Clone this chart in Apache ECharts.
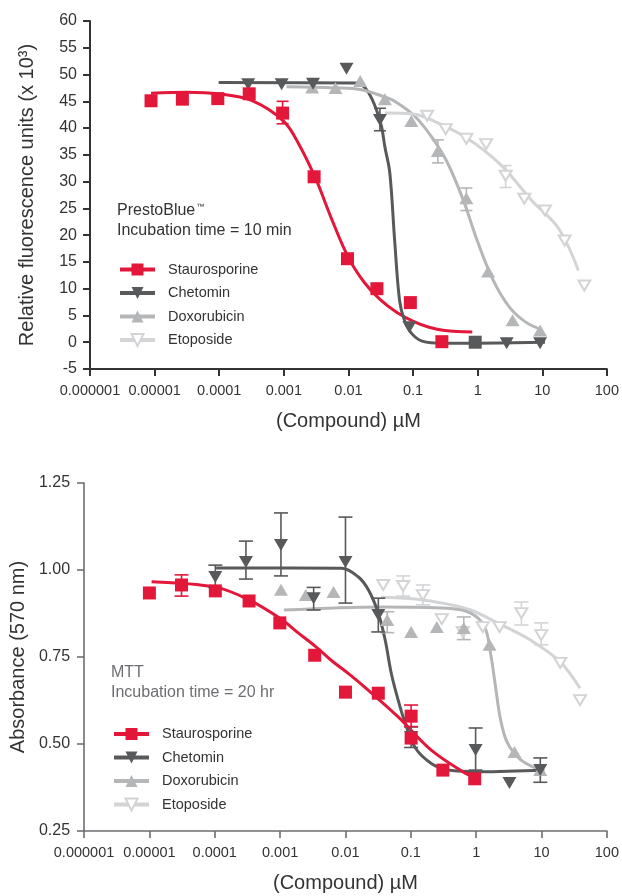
<!DOCTYPE html>
<html>
<head>
<meta charset="utf-8">
<script src="https://cdn.jsdelivr.net/npm/echarts@6/dist/echarts.min.js"></script>
<style>
  html, body { margin: 0; padding: 0; background: #fff; }
  #chart { width: 622px; height: 896px; }
</style>
</head>
<body>
<div id="chart"></div>
<script>
// Decade tick labels for the concentration axis (µM)
const xTickLabels = ['0.000001', '0.00001', '0.0001', '0.001', '0.01', '0.1', '1', '10', '100'];
const compounds = ['Staurosporine', 'Chetomin', 'Doxorubicin', 'Etoposide'];

// ---- PrestoBlue, 10 min incubation: [concentration µM, RFU x 10^3] ----
const pbStauroPts = [[0.0000088, 45.1], [0.0000269, 45.4], [0.000095, 45.5], [0.000291, 46.4], [0.000957, 42.8],
  [0.00294, 30.9], [0.00966, 15.6], [0.0276, 10.0], [0.0908, 7.4], [0.279, 0.1]];
const pbChetoPts = [[0.000281, 48.2], [0.000925, 48.2], [0.00283, 48.3], [0.00933, 51.1], [0.0307, 41.5],
  [0.0877, 2.8], [2.81, -0.2], [9.25, -0.2]];
const pbChetoSquare = [[0.916, 0.0]];
const pbDoxoPts = [[0.00274, 47.6], [0.0063, 47.5], [0.0152, 48.8], [0.0366, 45.4], [0.094, 41.3],
  [0.242, 35.7], [0.668, 26.9], [1.45, 13.2], [3.47, 4.1], [9.25, 2.2]];
const pbEtopoPts = [[0.165, 42.3], [0.32, 39.8], [0.668, 38.0], [1.35, 37.0], [2.71, 31.1],
  [5.27, 26.8], [11.0, 24.6], [22.2, 19.0], [44.7, 10.6]];

// error bars: [concentration, low, high]
const pbStauroErr = [[0.000957, 40.8, 45.0]];
const pbChetoErr = [[0.0307, 39.5, 43.7]];
const pbDoxoErr = [[0.242, 33.5, 37.8], [0.668, 24.6, 28.8]];
const pbEtopoErr = [[2.71, 28.9, 33.0]];

// fitted dose-response curves
const pbStauroFit = [[0.0000088, 46.5], [0.000032, 46.7], [0.000098, 46.4], [0.00031, 45.2], [0.00099, 41.3],
  [0.00174, 36.8], [0.00315, 30.4], [0.0055, 23.0], [0.01, 15.8], [0.0175, 11.2], [0.0307, 8.0],
  [0.0556, 5.6], [0.101, 3.9], [0.177, 2.8], [0.309, 2.2], [0.824, 1.9]];
const pbChetoFit = [[0.000098, 48.5], [0.01276, 48.4], [0.01816, 47.5], [0.024, 45.0], [0.0286, 42.6],
  [0.0329, 40.0], [0.0366, 36.5], [0.0436, 31.7], [0.0519, 19.0], [0.0618, 7.8], [0.0736, 4.1],
  [0.094, 1.7], [0.138, 0.2], [0.299, -0.2], [11.0, 0.0]];
const pbDoxoFit = [[0.0011, 47.7], [0.0063, 47.5], [0.0152, 47.2], [0.0366, 45.8], [0.0519, 45.0],
  [0.1045, 42.3], [0.19, 38.5], [0.332, 33.8], [0.601, 26.5], [0.949, 19.5], [1.72, 11.7],
  [3.12, 6.5], [5.47, 3.8], [9.9, 2.3]];
const pbEtopoFit = [[0.0366, 42.8], [0.1045, 42.6], [0.21, 41.3], [0.668, 38.2], [2.2, 33.3],
  [6.98, 26.4], [18.0, 21.2], [36.2, 13.4]];

// ---- MTT, 20 hr incubation: [concentration µM, absorbance 570 nm] ----
const mttStauroPts = [[0.00001, 0.934], [0.000031, 0.957], [0.000102, 0.94], [0.000335, 0.911], [0.00099, 0.848],
  [0.00338, 0.755], [0.01, 0.649], [0.0318, 0.646], [0.101, 0.58], [0.101, 0.517], [0.309, 0.425], [0.949, 0.40]];
const mttChetoPts = [[0.000102, 0.98], [0.0003, 1.023], [0.00103, 1.072], [0.00326, 0.919], [0.01, 1.023],
  [0.0318, 0.871], [0.101, 0.52], [0.98, 0.483], [3.23, 0.388], [9.57, 0.425]];
const mttDoxoPts = [[0.00103, 0.943], [0.00247, 0.928], [0.00656, 0.937], [0.0436, 0.856], [0.101, 0.822],
  [0.25, 0.836], [0.646, 0.833], [1.6, 0.785], [3.85, 0.477], [9.57, 0.425]];
const mttEtopoPts = [[0.0378, 0.957], [0.0762, 0.954], [0.153, 0.928], [0.298, 0.859], [0.624, 0.822],
  [1.26, 0.836], [2.28, 0.836], [4.92, 0.876], [9.9, 0.813], [19.3, 0.733], [38.8, 0.626]];

const mttStauroErr = [[0.000031, 0.925, 0.986], [0.101, 0.55, 0.612]];
const mttChetoErr = [[0.000102, 0.95, 1.014], [0.0003, 0.974, 1.083], [0.00103, 0.983, 1.164], [0.00326, 0.885, 0.95],
  [0.01, 0.905, 1.152], [0.0318, 0.822, 0.919], [0.101, 0.49, 0.549], [0.98, 0.425, 0.546], [9.57, 0.39, 0.46]];
const mttDoxoErr = [[0.0436, 0.82, 0.88], [0.646, 0.80, 0.865]];
const mttEtopoErr = [[0.0762, 0.925, 0.983], [0.153, 0.90, 0.957], [4.92, 0.842, 0.908], [9.9, 0.785, 0.848]];

const mttStauroFit = [[0.0000108, 0.966], [0.000105, 0.95], [0.000335, 0.914], [0.00103, 0.859], [0.00193, 0.818],
  [0.0035, 0.78], [0.0061, 0.74], [0.0115, 0.70], [0.0201, 0.662], [0.064, 0.578], [0.203, 0.483],
  [0.668, 0.417], [0.949, 0.405]];
const mttChetoFit = [[0.000105, 1.006], [0.0087, 1.005], [0.0158, 0.98], [0.0224, 0.943], [0.0318, 0.876],
  [0.0405, 0.799], [0.0501, 0.704], [0.064, 0.626], [0.0819, 0.56], [0.116, 0.49], [0.203, 0.445],
  [0.369, 0.425], [1.17, 0.42], [11.0, 0.425]];
const mttDoxoFit = [[0.00114, 0.885], [0.0353, 0.894], [0.369, 0.89], [0.824, 0.876], [1.35, 0.836],
  [1.66, 0.76], [1.98, 0.664], [2.36, 0.57], [3.01, 0.503], [4.75, 0.455], [9.57, 0.425]];
const mttEtopoFit = [[0.0353, 0.922], [0.116, 0.917], [0.369, 0.902], [0.824, 0.885], [2.12, 0.848],
  [6.74, 0.799], [19.3, 0.736], [38.8, 0.66]];

const FONT = '"Liberation Sans", Arial, Helvetica, sans-serif';
const COLORS = {
  Staurosporine: '#e3173a',
  Chetomin: '#58595b',
  Doxorubicin: '#b5b6b8',
  Etoposide: '#d3d4d6'
};
const SYMBOLS = {
  Staurosporine: ['rect', 0, 13],
  Chetomin: ['triangle', 180, [14, 12]],
  Doxorubicin: ['triangle', 0, [14, 12]],
  Etoposide: ['emptyTriangle', 180, [12, 10]]
};

function fitSeries(name, data, gi) {
  const c = COLORS[name];
  return {
    type: 'line', name, xAxisIndex: gi, yAxisIndex: gi, data,
    smooth: 0.35, showSymbol: false,
    symbol: SYMBOLS[name][0], symbolRotate: SYMBOLS[name][1],
    lineStyle: { color: c, width: 3 }, itemStyle: { color: c },
    silent: true, z: 2
  };
}
function pointSeries(name, data, gi, symbolOverride) {
  const c = COLORS[name];
  const s = SYMBOLS[name];
  return {
    type: 'scatter', name, xAxisIndex: gi, yAxisIndex: gi, data,
    symbol: symbolOverride || s[0], symbolRotate: symbolOverride ? 0 : s[1],
    symbolSize: symbolOverride ? 13 : s[2],
    itemStyle: { color: c, opacity: 1 },
    silent: true, z: 4
  };
}
function errSeries(name, data, gi, cap) {
  const c = COLORS[name];
  return {
    type: 'custom', xAxisIndex: gi, yAxisIndex: gi, data, silent: true, z: 3,
    encode: { x: 0, y: [1, 2] },
    renderItem(params, api) {
      const x = api.value(0);
      const top = api.coord([x, api.value(2)]);
      const bot = api.coord([x, api.value(1)]);
      const st = { stroke: c, lineWidth: 1.6 };
      return {
        type: 'group',
        children: [
          { type: 'line', shape: { x1: top[0], y1: top[1], x2: bot[0], y2: bot[1] }, style: st },
          { type: 'line', shape: { x1: top[0] - cap, y1: top[1], x2: top[0] + cap, y2: top[1] }, style: st },
          { type: 'line', shape: { x1: bot[0] - cap, y1: bot[1], x2: bot[0] + cap, y2: bot[1] }, style: st }
        ]
      };
    }
  };
}

function xAxis(gi, color, lw) {
  return {
    gridIndex: gi, type: 'log', logBase: 10, min: 0.000001, max: 100, interval: 1,
    axisLine: { onZero: false, lineStyle: { color, width: lw } },
    axisTick: { length: 7, lineStyle: { color, width: lw } },
    axisLabel: {
      margin: 14, color: '#333', fontSize: 14.5, fontFamily: FONT,
      formatter: v => xTickLabels[Math.round(Math.log10(v)) + 6]
    },
    splitLine: { show: false },
    minorTick: { show: false },
    name: '(Compound) µM', nameLocation: 'middle', nameGap: 42,
    nameTextStyle: { fontSize: 20, color: '#333', fontFamily: FONT }
  };
}

const noteRich = {
  a: { fontSize: 16, lineHeight: 20, color: 'inherit', fontFamily: FONT },
  tm: { fontSize: 8, lineHeight: 20, verticalAlign: 'top', padding: [1, 0, 0, 1], fontFamily: FONT }
};

const option = {
  animation: false,
  backgroundColor: '#fff',
  textStyle: { fontFamily: FONT },
  grid: [
    { left: 90, top: 21, width: 526, height: 348 },
    { left: 84, top: 483, width: 526, height: 348 }
  ],
  xAxis: [xAxis(0, '#333', 2), xAxis(1, '#6d6e71', 1.6)],
  yAxis: [
    {
      gridIndex: 0, type: 'value', min: -5, max: 60, interval: 5,
      axisLine: { show: true, onZero: false, lineStyle: { color: '#333', width: 2 } },
      axisTick: { show: true, length: 7, lineStyle: { color: '#333', width: 2 } },
      axisLabel: { margin: 13, color: '#333', fontSize: 16, fontFamily: FONT },
      splitLine: { show: false },
      name: 'Relative fluorescence units (x 10³)', nameLocation: 'middle', nameGap: 53,
      nameTextStyle: { fontSize: 20, color: '#333', fontFamily: FONT }
    },
    {
      gridIndex: 1, type: 'value', min: 0.25, max: 1.25, interval: 0.25,
      axisLine: { show: true, onZero: false, lineStyle: { color: '#6d6e71', width: 1.6 } },
      axisTick: { show: true, length: 7, lineStyle: { color: '#6d6e71', width: 1.6 } },
      axisLabel: { margin: 14, color: '#333', fontSize: 16, fontFamily: FONT, formatter: v => v.toFixed(2) },
      splitLine: { show: false },
      name: 'Absorbance (570 nm)', nameLocation: 'middle', nameGap: 55,
      nameTextStyle: { fontSize: 20, color: '#333', fontFamily: FONT }
    }
  ],
  title: [
    {
      text: '{a|PrestoBlue}{tm|™}\n{a|Incubation time = 10 min}', left: 117, top: 201, padding: 0,
      textStyle: { fontSize: 16, lineHeight: 20, fontWeight: 'normal', color: '#333', fontFamily: FONT,
        rich: { a: { fontSize: 16, lineHeight: 20, color: '#333' }, tm: { fontSize: 8, lineHeight: 20, color: '#333', verticalAlign: 'top', padding: [2, 0, 0, 1] } } }
    },
    {
      text: 'MTT\nIncubation time = 20 hr', left: 111, top: 663, padding: 0,
      textStyle: { fontSize: 16, lineHeight: 20, fontWeight: 'normal', color: '#6d6e71', fontFamily: FONT }
    }
  ],
  legend: [
    {
      data: compounds, orient: 'vertical', left: 118, top: 262, padding: 0,
      itemWidth: 35, itemHeight: 15, itemGap: 8.5, selectedMode: false,
      lineStyle: { width: 4 },
      textStyle: { fontSize: 14.5, color: '#333', fontFamily: FONT, padding: [0, 0, 0, 8] }
    },
    {
      data: compounds, orient: 'vertical', left: 112, top: 726.5, padding: 0,
      itemWidth: 35, itemHeight: 15, itemGap: 8.5, selectedMode: false,
      lineStyle: { width: 4 },
      textStyle: { fontSize: 14.5, color: '#333', fontFamily: FONT, padding: [0, 0, 0, 8] }
    }
  ],
  series: [
    // PrestoBlue panel
    fitSeries('Staurosporine', pbStauroFit, 0),
    fitSeries('Chetomin', pbChetoFit, 0),
    fitSeries('Doxorubicin', pbDoxoFit, 0),
    fitSeries('Etoposide', pbEtopoFit, 0),
    errSeries('Etoposide', pbEtopoErr, 0, 6),
    errSeries('Doxorubicin', pbDoxoErr, 0, 6),
    errSeries('Chetomin', pbChetoErr, 0, 6),
    errSeries('Staurosporine', pbStauroErr, 0, 6),
    pointSeries('Etoposide', pbEtopoPts, 0),
    pointSeries('Doxorubicin', pbDoxoPts, 0),
    pointSeries('Chetomin', pbChetoPts, 0),
    pointSeries('Chetomin', pbChetoSquare, 0, 'rect'),
    pointSeries('Staurosporine', pbStauroPts, 0),
    // MTT panel
    fitSeries('Etoposide', mttEtopoFit, 1),
    fitSeries('Doxorubicin', mttDoxoFit, 1),
    fitSeries('Chetomin', mttChetoFit, 1),
    fitSeries('Staurosporine', mttStauroFit, 1),
    errSeries('Etoposide', mttEtopoErr, 1, 7),
    errSeries('Doxorubicin', mttDoxoErr, 1, 7),
    errSeries('Chetomin', mttChetoErr, 1, 7),
    errSeries('Staurosporine', mttStauroErr, 1, 7),
    pointSeries('Etoposide', mttEtopoPts, 1),
    pointSeries('Doxorubicin', mttDoxoPts, 1),
    pointSeries('Chetomin', mttChetoPts, 1),
    pointSeries('Staurosporine', mttStauroPts, 1)
  ]
};

const chart = echarts.init(document.getElementById('chart'), null, { renderer: 'canvas' });
chart.setOption(option);
</script>
</body>
</html>
